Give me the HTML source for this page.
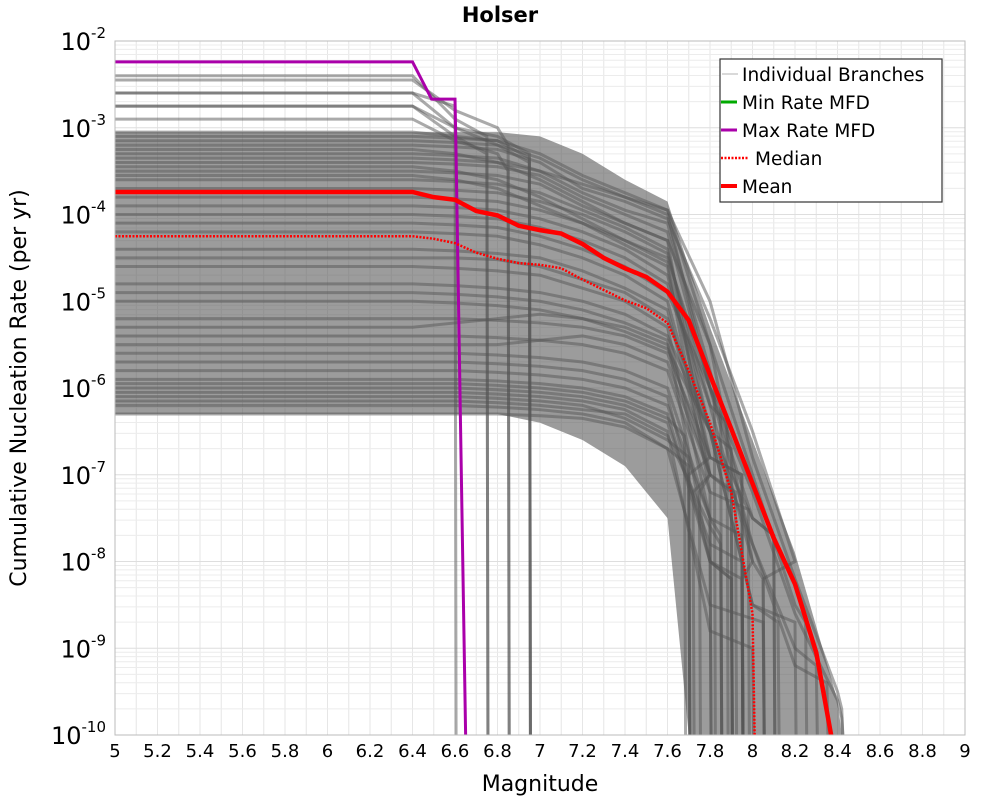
<!DOCTYPE html>
<html><head><meta charset="utf-8"><style>
body{margin:0;background:#fff;}
svg{display:block;font-family:"DejaVu Sans","Liberation Sans",sans-serif;}
</style></head><body>
<svg id="chart" width="1000" height="800" viewBox="0 0 1000 800">
<g id="grid"></g>
<g id="bands"></g>
<g id="branches"></g>
<g id="series"></g>
<rect x="115" y="41" width="850" height="694" fill="none" stroke="#bbb" stroke-width="1"/>
<g id="xticks"></g>
<g id="yticks"></g>
<text x="500" y="22" text-anchor="middle" font-size="21" font-weight="bold">Holser</text>
<text x="540" y="791" text-anchor="middle" font-size="22">Magnitude</text>
<text transform="translate(26,388) rotate(-90)" text-anchor="middle" font-size="22">Cumulative Nucleation Rate (per yr)</text>
<g>
<rect x="720" y="59" width="222" height="143" fill="#fff" stroke="#333" stroke-width="1.2"/>
<g><line x1="722" y1="74" x2="738" y2="74" stroke="#ccc" stroke-width="1.5"/><text x="742" y="81" font-size="18.5">Individual Branches</text></g>
<g><line x1="721" y1="102" x2="737" y2="102" stroke="#0a0" stroke-width="3"/><text x="742" y="109" font-size="18.5">Min Rate MFD</text></g>
<g><line x1="721" y1="130" x2="737" y2="130" stroke="#a0a" stroke-width="3"/><text x="742" y="137" font-size="18.5">Max Rate MFD</text></g>
<g><line x1="721" y1="158" x2="748" y2="158" stroke="#f00" stroke-width="2.5" stroke-dasharray="2,1.5"/><text x="755" y="165" font-size="18.5">Median</text></g>
<g><line x1="721" y1="186" x2="737" y2="186" stroke="#f00" stroke-width="4"/><text x="742" y="193" font-size="18.5">Mean</text></g>
</g>
</svg>
<script>
const xTicks=[5,5.2,5.4,5.6,5.8,6,6.2,6.4,6.6,6.8,7,7.2,7.4,7.6,7.8,8,8.2,8.4,8.6,8.8,9];
const yTickExps=[-2,-3,-4,-5,-6,-7,-8,-9,-10];
const meanM=[5,6.4,6.5,6.6,6.7,6.8,6.9,7.0,7.1,7.2,7.3,7.4,7.5,7.6,7.7,7.8,7.9,8.0,8.1,8.2,8.3,8.37];
const meanLog=[-3.74,-3.74,-3.8,-3.83,-3.96,-4.01,-4.13,-4.18,-4.22,-4.34,-4.5,-4.62,-4.72,-4.89,-5.22,-5.85,-6.47,-7.1,-7.73,-8.26,-9.05,-10];
const medianM=[5,6.4,6.5,6.6,6.7,6.8,6.9,7.0,7.1,7.2,7.3,7.4,7.5,7.6,7.7,7.8,7.9,8.0,8.01];
const medianLog=[-4.25,-4.25,-4.28,-4.33,-4.44,-4.51,-4.56,-4.58,-4.62,-4.75,-4.87,-4.99,-5.08,-5.25,-5.8,-6.4,-7.2,-8.6,-10];
const maxM=[5,6.4,6.49,6.6,6.605,6.65];
const maxLog=[-2.24,-2.24,-2.67,-2.67,-3.3,-10];
const bandM=[5,6.8,7.0,7.2,7.4,7.6,7.7,7.8,8.0,8.2,8.4,8.42];
const bandUpper=[-3.05,-3.05,-3.1,-3.3,-3.6,-3.85,-4.6,-5.3,-6.6,-7.9,-9.6,-10];
const bandLower=[-6.3,-6.3,-6.4,-6.6,-6.9,-7.5,-10,-10,-10,-10,-10,-10];
const branchM=[5,6.4,6.6,6.8,7.0,7.2,7.4,7.6,7.8,8.0,8.2,8.4];
const branchLogs=[
[-2.4,-2.4,-2.9],[-2.45,-2.45,-2.8,-3.0],[-2.6,-2.6,-3.0,-3.2],[-2.75,-2.75,-3.1],[-2.9,-2.9,-3.15,-3.3],
[-2.6,-2.6,-2.75],[-2.75,-2.75,-3.0,-3.1],[-3.05,-3.05,-3.1,-3.15],
[-3.1,-3.1,-3.12,-3.15,-3.3,-3.55,-3.75,-3.95,-5.5,-8],
[-3.15,-3.15,-3.17,-3.2,-3.35,-3.6,-3.8,-4.0,-6.0],
[-3.2,-3.2,-3.22,-3.25,-3.4,-3.7,-3.85,-4.05,-5.2,-6.5,-8.0],
[-3.3,-3.3,-3.32,-3.35,-3.5,-3.75,-3.95,-4.1,-5.8],
[-3.4,-3.4,-3.42,-3.45,-3.55,-3.8,-4.0,-4.2,-6.0,-7.5],
[-3.5,-3.5,-3.52,-3.55,-3.65,-3.9,-4.1,-4.3,-5.5,-7.0,-8.5],
[-3.6,-3.6,-3.62,-3.65,-3.75,-3.95,-4.15,-4.4,-6.5],
[-3.7,-3.7,-3.72,-3.75,-3.85,-4.0,-4.2,-4.45,-6.2,-8.0],
[-3.8,-3.8,-3.82,-3.85,-3.95,-4.1,-4.3,-4.55,-6.8],
[-3.9,-3.9,-3.92,-3.95,-4.05,-4.2,-4.4,-4.7,-6.5,-8.5],
[-3.25,-3.25,-3.3,-3.4,-3.6,-3.85,-4.1,-4.3,-7.0],
[-3.45,-3.45,-3.5,-3.6,-3.8,-4.05,-4.3,-4.5,-6.0,-7.8,-9.0],
[-3.55,-3.55,-3.6,-3.7,-3.9,-4.1,-4.35,-4.6,-7.2],
[-3.35,-3.35,-3.37,-3.4,-3.5,-3.65,-3.8,-3.95,-5.0,-6.8,-8.2,-9.5],
[-4.0,-4.0,-4.02,-4.05,-4.15,-4.3,-4.5,-4.8,-6.2],
[-4.2,-4.2,-4.22,-4.25,-4.35,-4.5,-4.7,-5.0,-6.8],
[-4.4,-4.4,-4.42,-4.45,-4.5,-4.65,-4.85,-5.1,-7.0],
[-4.6,-4.6,-4.62,-4.65,-4.7,-4.85,-5.0,-5.3,-7.5],
[-4.8,-4.8,-4.82,-4.85,-4.9,-5.0,-5.15,-5.4,-6.5,-8.5],
[-5.0,-5.0,-5.02,-5.05,-5.1,-5.2,-5.3,-5.5,-7.0],
[-4.9,-4.9,-4.92,-4.95,-5.0,-5.1,-5.25,-5.45,-8.0],
[-5.2,-5.2,-5.2,-5.22,-5.25,-5.3,-5.4,-5.6,-6.8],
[-5.4,-5.4,-5.4,-5.42,-5.45,-5.5,-5.6,-5.8,-7.2],
[-5.6,-5.6,-5.6,-5.62,-5.65,-5.7,-5.8,-6.0,-7.5],
[-5.7,-5.7,-5.7,-5.72,-5.75,-5.8,-5.9,-6.1,-8.0],
[-5.8,-5.8,-5.8,-5.82,-5.85,-5.9,-6.0,-6.2,-7.5],
[-5.9,-5.9,-5.9,-5.92,-5.95,-6.0,-6.1,-6.3,-8.0],
[-6.0,-6.0,-6.0,-6.02,-6.05,-6.1,-6.2,-6.4,-7.8],
[-6.1,-6.1,-6.1,-6.12,-6.15,-6.2,-6.35,-6.6],
[-6.2,-6.2,-6.2,-6.22,-6.25,-6.3,-6.4,-6.7,-8.5],
[-6.3,-6.3,-6.3,-6.3,-6.32,-6.35,-6.45,-6.7],
[-5.5,-5.5,-5.5,-5.5,-5.45,-5.4,-5.5,-5.7,-7.0],
[-5.3,-5.3,-5.25,-5.2,-5.15,-5.2,-5.35,-5.55,-6.5,-7.5],
[-6.05,-6.05,-6.05,-6.07,-6.1,-6.15,-6.25,-6.5,-8.8],
[-5.95,-5.95,-5.95,-5.97,-6.0,-6.05,-6.15,-6.35],
[-6.15,-6.15,-6.15,-6.17,-6.2,-6.25,-6.3,-6.55,-7.6],
[-4.5,-4.5,-4.5,-4.52,-4.6,-4.75,-4.9,-5.2,-6.5,-7.8,-9.2],
[-4.1,-4.1,-4.12,-4.15,-4.25,-4.4,-4.6,-4.9,-6.0,-7.2,-8.6,-9.6]
];
const branchEnds=[6.75,6.85,6.95,6.75,6.85,6.6,6.95,6.95,7.95,7.85,8.05,7.82,8.1,8.25,7.9,8.05,7.95,8.2,7.92,8.3,7.98,8.42,7.88,7.95,7.9,7.95,8.12,7.72,7.9,7.7,7.8,7.85,7.95,7.8,7.9,7.95,7.7,8.05,7.7,7.75,8.1,8.0,7.68,7.85,8.35,8.42];

const NS='http://www.w3.org/2000/svg';
const X0=115,X1=965,Y0=41,Y1=735;
const xs=m=>X0+(m-5)*(X1-X0)/4;
const ys=l=>Y0+(-2-l)*(Y1-Y0)/8;
function mk(tag,attrs,parent){const e=document.createElementNS(NS,tag);for(const k in attrs)e.setAttribute(k,attrs[k]);parent.appendChild(e);return e;}

const grid=document.getElementById('grid');
for(let i=0;i<=40;i++){const m=5+i*0.1;const l=mk('line',{x1:xs(m),x2:xs(m),y1:Y0,y2:Y1,stroke:'#e6e6e6','stroke-width':1},grid);

}
for(let d=-10;d<-2;d++){for(let k=1;k<10;k++){const v=d+Math.log10(k);const l=mk('line',{x1:X0,x2:X1,y1:ys(v),y2:ys(v),stroke:k===1?'#dedede':'#ececec','stroke-width':1},grid);

}}

const bands=document.getElementById('bands');
const up=bandM.map((m,i)=>xs(m)+','+ys(bandUpper[i]));
const lo=bandM.map((m,i)=>xs(m)+','+ys(bandLower[i])).reverse();
const band=mk('polygon',{points:up.concat(lo).join(' '),fill:'#5a5a5a','fill-opacity':0.6},bands);



const bg=document.getElementById('branches');
branchLogs.forEach((arr,i)=>{
  const pts=arr.map((v,j)=>xs(branchM[j])+','+ys(v));
  const e=branchEnds[i];
  const last=arr[arr.length-1];
  pts.push(xs(e)+','+ys(Math.max(last-0.2,-10)));
  pts.push(xs(e+0.005)+','+ys(-10));
  const p=mk('polyline',{points:pts.join(' '),fill:'none',stroke:'#555','stroke-width':3,'stroke-opacity':0.5},bg);
  
  
});

const sg=document.getElementById('series');
function series(M,L,attrs,name){const pts=M.map((m,i)=>xs(m)+','+ys(L[i])).join(' ');const p=mk('polyline',Object.assign({points:pts,fill:'none'},attrs),sg);

}
series(maxM,maxLog,{stroke:'#a0a','stroke-width':3},'max-rate-line');
series(medianM,medianLog,{stroke:'#f00','stroke-width':2.5,'stroke-dasharray':'2,1.5'},'median-line');
series(meanM,meanLog,{stroke:'#f00','stroke-width':4.5},'mean-line');

const xt=document.getElementById('xticks');
xTicks.forEach(m=>{const t=mk('text',{x:xs(m),y:757,'text-anchor':'middle','font-size':18},xt);t.textContent=String(m);

});
const yt=document.getElementById('yticks');
yTickExps.forEach(e=>{const t=mk('text',{x:106,y:ys(e)+9,'text-anchor':'end','font-size':24},yt);


t.appendChild(document.createTextNode('10'));
const s=mk('tspan',{dy:-12,'font-size':15},t);s.textContent=String(e);});
</script>
</body></html>
